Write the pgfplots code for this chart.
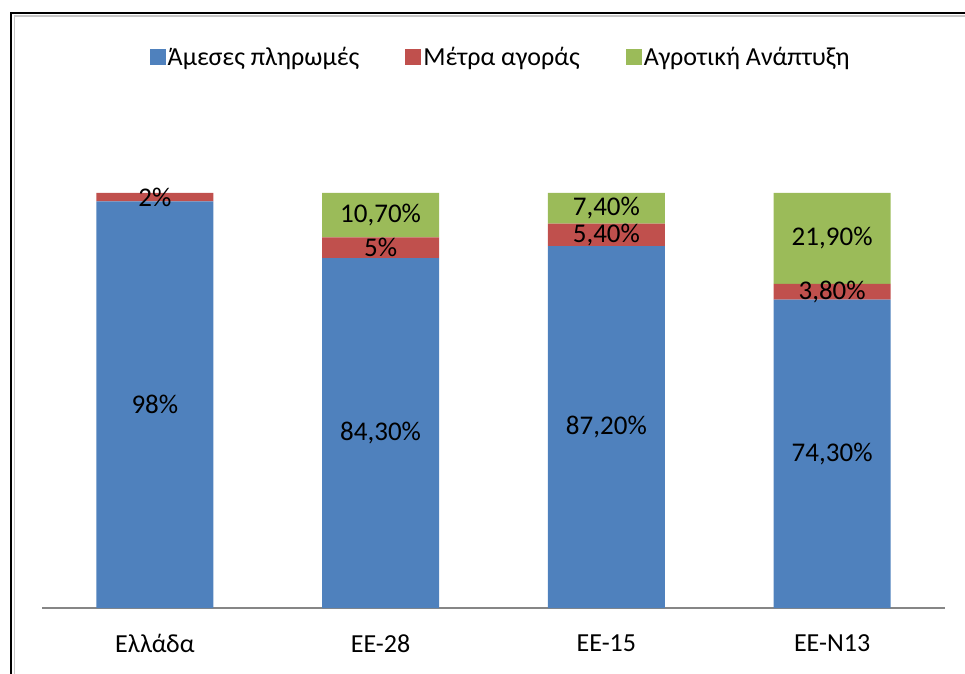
\documentclass[border=0pt]{standalone}
\usepackage{fontspec}
\setmainfont{Carlito}
\usepackage{pgfplots}
\pgfplotsset{compat=1.18}
\definecolor{xlblue}{HTML}{4F81BD}
\definecolor{xlred}{HTML}{C0504D}
\definecolor{xlgreen}{HTML}{9BBB59}
\definecolor{axgray}{HTML}{868686}
\begin{document}
\begin{tikzpicture}[x=1pt,y=1pt]
\path[use as bounding box] (0,0) rectangle (965,673);
\draw[line width=2pt,black] (11,-2) -- (11,660) -- (967,660);
\draw[line width=1.5pt,black!22] (14.5,-2) -- (14.5,656.8) -- (967,656.8);
\begin{axis}[
  at={(42pt,65pt)}, anchor=south west,
  scale only axis, width=903pt, height=415pt,
  ybar stacked, bar width=117pt,
  xmin=-0.5, xmax=3.5, ymin=0, ymax=100,
  enlargelimits=false,
  axis x line*=bottom, axis y line=none,
  x axis line style={draw=axgray, line width=1.2pt, -},
  xtick={0,1,2,3},
  xticklabels={Ελλάδα, ΕΕ-28, ΕΕ-15, ΕΕ-N13},
  xtick style={draw=none},
  ytick=\empty,
  x tick label style={font=\fontsize{26}{30}\selectfont, yshift=-23pt},
  point meta=explicit symbolic,
  nodes near coords,
  every node near coord/.append style={font=\fontsize{27}{32}\selectfont, text=black, anchor=center},
  legend columns=3,
  legend style={at={(0.508,1.328)}, anchor=center, draw=none, fill=none,
    font=\fontsize{26}{30}\selectfont,
    /tikz/every even column/.append style={column sep=44pt},
    /tikz/every odd column/.append style={column sep=0pt}},
  legend image code/.code={\fill[#1,draw=none] (0pt,-8pt) rectangle (16pt,8pt);},
]
\addplot[fill=xlblue, draw=none] coordinates {(0,98) [98\%] (1,84.3) [84,30\%] (2,87.2) [87,20\%] (3,74.3) [74,30\%]};
\addplot[fill=xlred, draw=none] coordinates {(0,2) [2\%] (1,5) [5\%] (2,5.4) [5,40\%] (3,3.8) [3,80\%]};
\addplot[fill=xlgreen, draw=none] coordinates {(0,0) [] (1,10.7) [10,70\%] (2,7.4) [7,40\%] (3,21.9) [21,90\%]};
\legend{Άμεσες πληρωμές, Μέτρα αγοράς, Αγροτική Ανάπτυξη}
\end{axis}
\end{tikzpicture}
\end{document}
